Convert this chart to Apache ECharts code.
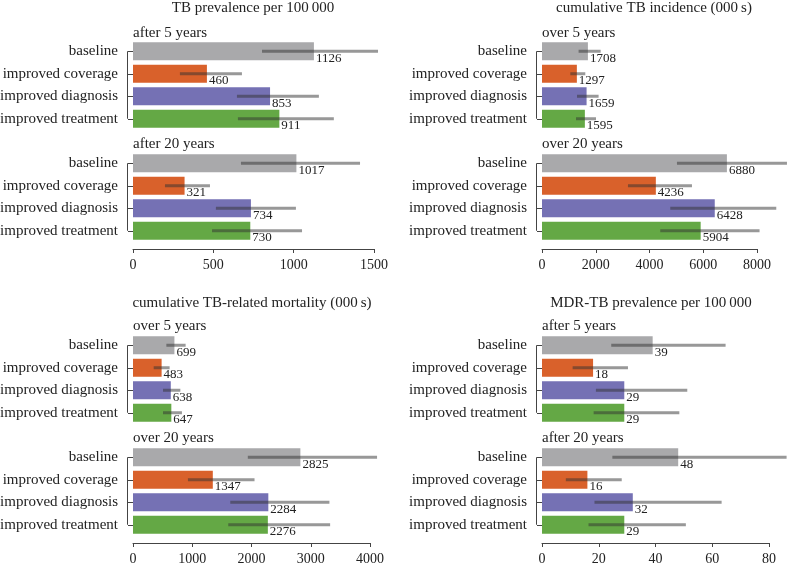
<!DOCTYPE html>
<html>
<head>
<meta charset="utf-8">
<script src="https://cdn.jsdelivr.net/npm/echarts@6/dist/echarts.min.js"></script>
<style>
html,body{margin:0;padding:0;background:#fff;}
#chart{width:796px;height:566px;}
</style>
</head>
<body>
<div id="chart"></div>
<script>
// ---------- data ----------
const categories = ['baseline', 'improved coverage', 'improved diagnosis', 'improved treatment'];

const panelTitles = ['TB prevalence per 100\u2009000', 'cumulative TB incidence (000\u2009s)',
                     'cumulative TB-related mortality (000\u2009s)', 'MDR-TB prevalence per 100\u2009000'];
const subTitles = [['after 5 years', 'after 20 years'], ['over 5 years', 'over 20 years'],
                   ['over 5 years', 'over 20 years'], ['after 5 years', 'after 20 years']];

const prev5 = [1126, 460, 853, 911];
const prev5Lo = [803, 292, 647, 653];
const prev5Hi = [1525, 678, 1157, 1250];
const prev20 = [1017, 321, 734, 730];
const prev20Lo = [672, 199, 516, 492];
const prev20Hi = [1413, 479, 1014, 1052];

const inc5 = [1708, 1297, 1659, 1595];
const inc5Lo = [1362, 1053, 1302, 1265];
const inc5Hi = [2182, 1611, 2106, 2009];
const inc20 = [6880, 4236, 6428, 5904];
const inc20Lo = [5022, 3199, 4773, 4401];
const inc20Hi = [9115, 5580, 8717, 8095];

const mort5 = [699, 483, 638, 647];
const mort5Lo = [563, 349, 506, 506];
const mort5Hi = [888, 618, 799, 826];
const mort20 = [2825, 1347, 2284, 2276];
const mort20Lo = [1938, 927, 1642, 1608];
const mort20Hi = [4119, 2051, 3315, 3327];

const mdr5 = [39, 18, 29, 29];
const mdr5Lo = [24.4, 10.8, 19.0, 18.2];
const mdr5Hi = [64.7, 30.3, 51.2, 48.4];
const mdr20 = [48, 16, 32, 29];
const mdr20Lo = [24.8, 8.4, 18.5, 16.4];
const mdr20Hi = [86.2, 28.1, 63.3, 50.7];

const axisMax = [1500, 8000, 4000, 80];
const axisStep = [500, 2000, 1000, 20];

// ---------- styling / layout ----------
const barColors = ['#a9a9ab', '#d9612b', '#7571b4', '#64a845'];
const FONT = '"Liberation Serif", "DejaVu Serif", serif';
const TXT = '#222';
const AX = '#444';

const panels = [
  {left: 133, width: 241, tops: [40, 152], titleX: 253, titleY: 8,  subY: [33, 144]},
  {left: 542, width: 215, tops: [40, 152], titleX: 654, titleY: 8,  subY: [33, 144]},
  {left: 133, width: 237, tops: [334, 446], titleX: 252, titleY: 303, subY: [326, 438]},
  {left: 542, width: 227, tops: [334, 446], titleX: 651, titleY: 303, subY: [326, 438]}
];
const blocks = [
  [[prev5, prev5Lo, prev5Hi], [prev20, prev20Lo, prev20Hi]],
  [[inc5, inc5Lo, inc5Hi], [inc20, inc20Lo, inc20Hi]],
  [[mort5, mort5Lo, mort5Hi], [mort20, mort20Lo, mort20Hi]],
  [[mdr5, mdr5Lo, mdr5Hi], [mdr20, mdr20Lo, mdr20Hi]]
];

const grid = [], xAxis = [], yAxis = [], series = [], graphic = [];
let gi = 0;
panels.forEach((p, pi) => {
  graphic.push({type: 'text', x: p.titleX, y: p.titleY,
    style: {text: panelTitles[pi], font: '15px ' + FONT, fill: TXT, textAlign: 'center', textVerticalAlign: 'middle'}});
  for (let b = 0; b < 2; b++) {
    graphic.push({type: 'text', x: p.left, y: p.subY[b],
      style: {text: subTitles[pi][b], font: '15px ' + FONT, fill: TXT, textAlign: 'left', textVerticalAlign: 'middle'}});
    grid.push({left: p.left, top: p.tops[b], width: p.width, height: 90, containLabel: false, outerBoundsMode: 'none'});
    xAxis.push({
      type: 'value', gridIndex: gi, min: 0, max: axisMax[pi], interval: axisStep[pi],
      show: b === 1, offset: 7, splitLine: {show: false},
      axisLine: {show: true, lineStyle: {color: AX, width: 1}},
      axisTick: {show: true, length: 4, lineStyle: {color: AX}},
      axisLabel: {fontFamily: FONT, fontSize: 14, color: TXT, margin: 9, formatter: v => String(v)}
    });
    yAxis.push({
      type: 'category', gridIndex: gi, data: categories, inverse: true, offset: 6,
      axisLine: {show: false},
      axisTick: {show: true, length: 5, alignWithLabel: true, lineStyle: {color: AX}},
      axisLabel: {fontFamily: FONT, fontSize: 15, color: TXT, margin: 9},
      splitLine: {show: false}
    });
    const [vals, lo, hi] = blocks[pi][b];
    series.push({
      type: 'bar', xAxisIndex: gi, yAxisIndex: gi, barWidth: 18,
      data: vals.map((v, i) => ({value: v, itemStyle: {color: barColors[i]}})),
      label: {show: true, position: 'right', distance: 2, offset: [0, 7],
              fontFamily: FONT, fontSize: 13, color: TXT},
      animation: false, z: 2
    });
    series.push({
      type: 'custom', xAxisIndex: gi, yAxisIndex: gi, z: 3, clip: false, silent: true,
      encode: {x: [0, 1], y: 2},
      data: lo.map((l, i) => [l, hi[i], i]),
      renderItem: (params, api) => {
        const a = api.coord([api.value(0), api.value(2)]);
        const c = api.coord([api.value(1), api.value(2)]);
        return {type: 'line', shape: {x1: a[0], y1: a[1], x2: c[0], y2: c[1]},
                style: {stroke: 'rgba(49,49,49,0.5)', lineWidth: 3}};
      },
      animation: false
    });
    // axis spine between first and last category
    series.push({
      type: 'custom', xAxisIndex: gi, yAxisIndex: gi, z: 3, clip: false, silent: true,
      encode: {x: 0, y: [1, 2]},
      data: [[0, 0, categories.length - 1]],
      renderItem: (params, api) => {
        const a = api.coord([api.value(0), api.value(1)]);
        const c = api.coord([api.value(0), api.value(2)]);
        const x = Math.round(a[0] - 6) + 0.5;
        return {type: 'line', shape: {x1: x, y1: a[1], x2: x, y2: c[1]},
                style: {stroke: AX, lineWidth: 1}};
      },
      animation: false
    });
    gi++;
  }
});

const chart = echarts.init(document.getElementById('chart'), null, {renderer: 'canvas'});
chart.setOption({
  animation: false,
  backgroundColor: '#fff',
  grid, xAxis, yAxis, series, graphic
});
</script>
</body>
</html>
